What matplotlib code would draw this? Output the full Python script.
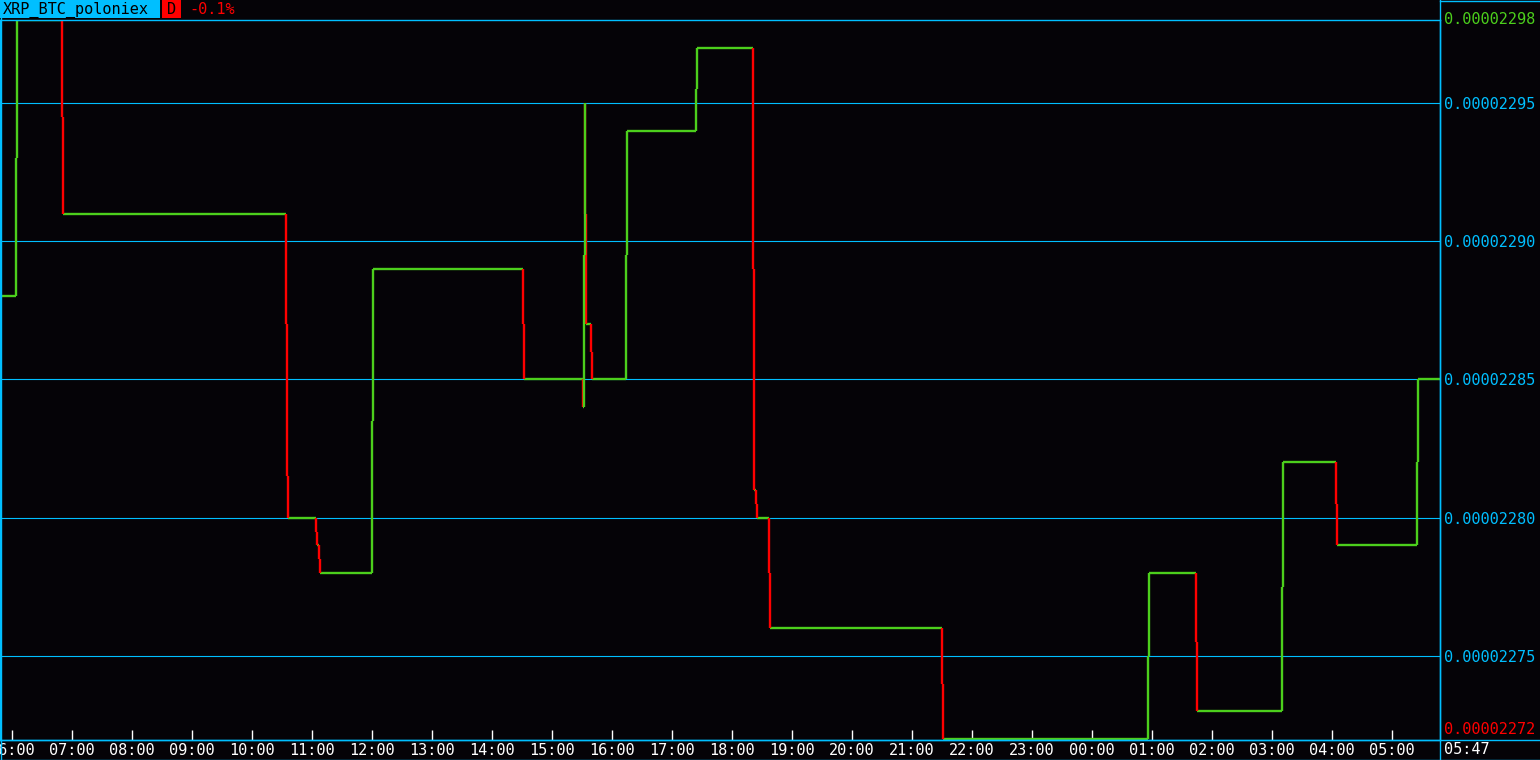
"""
XRP_BTC (poloniex) 24h step chart, terminal style: green for up moves, red for down moves.
Prices in satoshi (1e-8 BTC).
"""

import matplotlib
matplotlib.use("Agg")
import matplotlib.pyplot as plt
from matplotlib.lines import Line2D
from matplotlib.patches import Rectangle

# ---------- data ----------
SYMBOL = "XRP_BTC_poloniex"
PERIOD = "D"
CHANGE = "-0.1%"
START_TIME = "05:48"
NOW_LABEL = "05:47"

# price changes: time of change -> new price (satoshi)
change_times = [
    "05:48", "06:04", "06:05", "06:50", "06:51", "10:34", "10:35", "10:36",
    "11:04", "11:05", "11:07", "11:08", "12:00", "12:01", "14:31", "14:32",
    "15:31", "15:32", "15:33", "15:33", "15:34", "15:39", "15:40", "16:14",
    "16:15", "17:24", "17:25", "18:21", "18:22", "18:24", "18:25", "18:37",
    "18:38", "21:30", "21:31", "00:56", "00:57", "01:44", "01:45", "03:10",
    "03:11", "04:04", "04:05", "05:25", "05:26",
]
prices = [
    2288.0, 2293.0, 2298.0, 2294.5, 2291.0, 2287.0, 2281.5, 2280.0,
    2279.5, 2279.0, 2278.5, 2278.0, 2283.5, 2289.0, 2287.0, 2285.0,
    2284.0, 2289.5, 2295.0, 2291.0, 2287.0, 2286.0, 2285.0, 2289.5,
    2294.0, 2295.5, 2297.0, 2289.0, 2281.0, 2280.5, 2280.0, 2278.0,
    2276.0, 2274.0, 2272.0, 2275.0, 2278.0, 2275.5, 2273.0, 2277.5,
    2282.0, 2280.5, 2279.0, 2282.0, 2285.0,
]
hour_labels = ["06:00", "07:00", "08:00", "09:00", "10:00", "11:00", "12:00",
               "13:00", "14:00", "15:00", "16:00", "17:00", "18:00", "19:00",
               "20:00", "21:00", "22:00", "23:00", "00:00", "01:00", "02:00",
               "03:00", "04:00", "05:00"]
grid_prices = [2275, 2280, 2285, 2290, 2295]
price_high = 2298
price_low = 2272

# ---------- style ----------
BG = "#050307"
CYAN = "#00bfff"
GREEN = "#4ccf1c"
RED = "#ff0000"
WHITE = "#ffffff"
FONT = "DejaVu Sans Mono"
FS = 11
LW = 1.7


def to_minutes(hhmm, start=START_TIME):
    h, m = map(int, hhmm.split(":"))
    sh, sm = map(int, start.split(":"))
    return (h * 60 + m - (sh * 60 + sm)) % 1440


def fmt_price(sat):
    return f"{sat * 1e-8:.8f}"


xs = [to_minutes(t) for t in change_times]
x_end = 1440
hour_ticks = [to_minutes(h) for h in hour_labels]

W, H = 1540, 760
fig = plt.figure(figsize=(W / 100, H / 100), dpi=100, facecolor=BG)

# plot area: x 0..1440 px, y 20..740 px from top
ax = fig.add_axes([0, 20 / H, 1440 / W, 720 / H], facecolor=BG)
ax.set_xlim(0, x_end)
ax.set_ylim(price_low - 0.04, price_high)

for gp in grid_prices:
    ax.axhline(gp, color=CYAN, lw=0.8, zorder=1)

# horizontals (always green)
h_start = xs
h_end = xs[1:] + [x_end]
ax.hlines(prices, h_start, h_end, color=GREEN, lw=LW, zorder=2)

# verticals coloured by direction, rises drawn over drops
for i in range(1, len(xs)):
    up = prices[i] > prices[i - 1]
    ax.vlines(xs[i], prices[i - 1], prices[i], color=GREEN if up else RED,
              lw=LW, zorder=4 if up else 3)

for s in ax.spines.values():
    s.set_color(CYAN)
    s.set_linewidth(1.0)
    s.set_zorder(5)

ax.set_xticks(hour_ticks)
ax.set_xticklabels(hour_labels, family=FONT, fontsize=FS, color=WHITE)
ax.tick_params(axis="x", direction="in", length=7.5, width=1, color=WHITE, pad=2.0)

ax.yaxis.tick_right()
ax.set_yticks(grid_prices)
ax.set_yticklabels([fmt_price(p) for p in grid_prices], family=FONT, fontsize=FS, color=CYAN)
ax.tick_params(axis="y", length=0, pad=3)

# high / low labels on right panel
fig.text(1444 / W, 1 - 19 / H, fmt_price(price_high), family=FONT, fontsize=FS,
         color=GREEN, ha="left", va="center")
fig.text(1444 / W, 1 - 730 / H, fmt_price(price_low), family=FONT, fontsize=FS,
         color=RED, ha="left", va="center")
fig.text(1444 / W, 1 - 750 / H, NOW_LABEL, family=FONT, fontsize=FS,
         color=WHITE, ha="left", va="center")


# frame lines outside the axes
def fig_line(x0, y0, x1, y1):
    fig.add_artist(Line2D([x0 / W, x1 / W], [1 - y0 / H, 1 - y1 / H],
                          color=CYAN, lw=1.0, zorder=6))


fig_line(1440, 0, 1440, 760)     # right panel divider
fig_line(1440, 0.5, 1540, 0.5)   # right panel top
fig_line(0, 740, 1540, 740)      # axis baseline
fig_line(0, 759.5, 1540, 759.5)  # bottom border
fig_line(0.5, 0, 0.5, 760)       # left border

# header
fig.add_artist(Rectangle((0, 1 - 18 / H), 160 / W, 18 / H, transform=fig.transFigure,
                         facecolor=CYAN, edgecolor="none", zorder=7))
fig.add_artist(Rectangle((162 / W, 1 - 18 / H), 19 / W, 18 / H, transform=fig.transFigure,
                         facecolor=RED, edgecolor="none", zorder=7))
fig.text(3 / W, 1 - 10 / H, SYMBOL, family=FONT, fontsize=FS, color="#000000",
         ha="left", va="center", zorder=8)
fig.text(171.5 / W, 1 - 10 / H, PERIOD, family=FONT, fontsize=FS, color="#000000",
         ha="center", va="center", zorder=8)
fig.text(189 / W, 1 - 10 / H, CHANGE, family=FONT, fontsize=FS, color=RED,
         ha="left", va="center", zorder=8)

fig.savefig("out.png", dpi=100, facecolor=BG)
